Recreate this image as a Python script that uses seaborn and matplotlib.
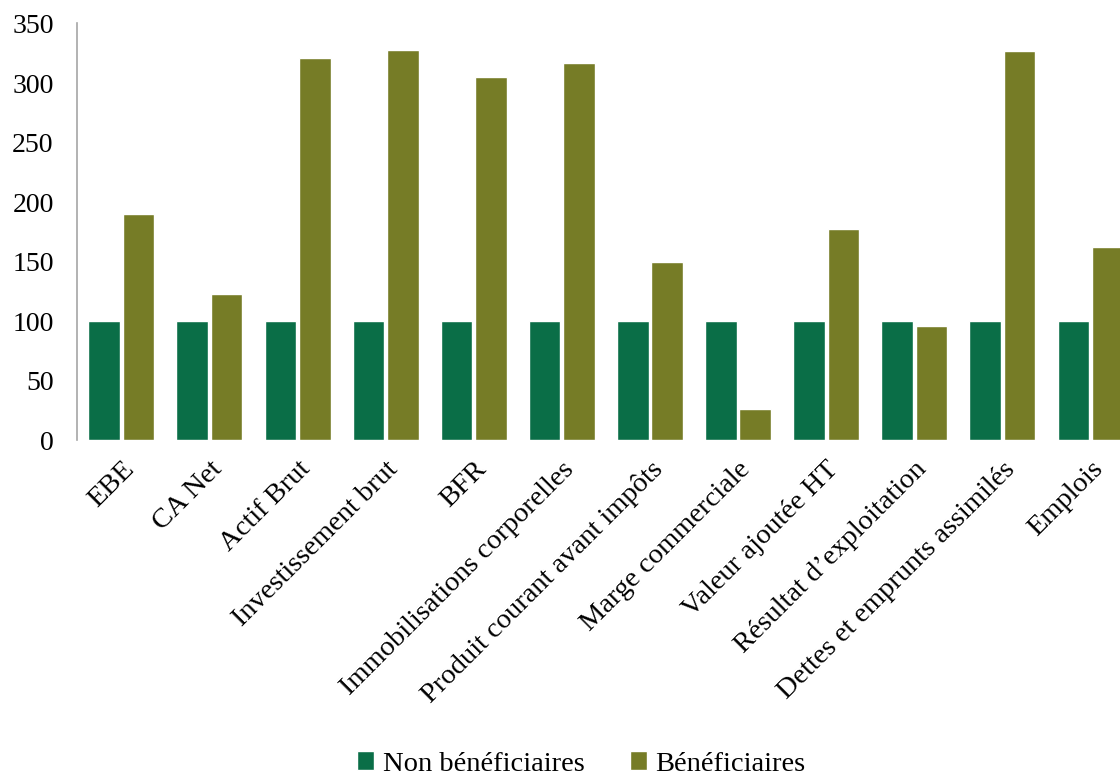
import matplotlib
matplotlib.use('Agg')
import pandas as pd
import seaborn as sns
from matplotlib import pyplot as plt

# Data
categories = ['EBE', 'CA Net', 'Actif Brut', 'Investissement brut', 'BFR',
              'Immobilisations corporelles', 'Produit courant avant impôts',
              'Marge commerciale', 'Valeur ajoutée HT', 'Résultat d’exploitation',
              'Dettes et emprunts assimilés', 'Emplois']
non_beneficiaires = [100, 100, 100, 100, 100, 100, 100, 100, 100, 100, 100, 100]
beneficiaires = [190, 123, 321, 328, 305, 317, 150, 26, 177, 96, 327, 162]
series_names = ['Non bénéficiaires', 'Bénéficiaires']
colors = ['#0a6e47', '#767c26']

df = pd.DataFrame({
    'categorie': categories * 2,
    'groupe': [series_names[0]] * len(categories) + [series_names[1]] * len(categories),
    'valeur': non_beneficiaires + beneficiaires,
})

sns.set_style('white')
plt.rcParams['font.family'] = ['Liberation Serif', 'DejaVu Serif']
plt.rcParams['text.color'] = 'black'
plt.rcParams['xtick.color'] = 'black'
plt.rcParams['ytick.color'] = 'black'

fig = plt.figure(figsize=(11.2, 7.78), dpi=100)
ax = fig.add_axes([0.069, 0.4344, 0.944, 0.5354])

sns.barplot(data=df, x='categorie', y='valeur', hue='groupe',
            hue_order=series_names, palette=colors, width=0.78, gap=0.08,
            saturation=1, ax=ax, legend=True)

ax.set_ylim(0, 350)
ax.set_xlim(-0.5, len(categories) - 0.5)
ax.set_yticks(range(0, 351, 50))
ax.set_xlabel('')
ax.set_ylabel('')

for s in ['top', 'right', 'bottom']:
    ax.spines[s].set_visible(False)
ax.spines['left'].set_color('#a6a6a6')
ax.spines['left'].set_linewidth(1.2)

ax.tick_params(axis='y', length=0, pad=17, labelsize=20)
ax.tick_params(axis='x', length=0, pad=12, labelsize=20.5)
plt.setp(ax.get_xticklabels(), rotation=45, ha='right', rotation_mode='anchor')

handles, labels = ax.get_legend_handles_labels()
ax.get_legend().remove()
fig.legend(handles, labels, loc='center', bbox_to_anchor=(0.519, 0.018),
           ncol=2, frameon=False, fontsize=20.5, handlelength=0.6, handleheight=0.6,
           handletextpad=0.3, columnspacing=1.6)

fig.savefig('out.png', dpi=100)
